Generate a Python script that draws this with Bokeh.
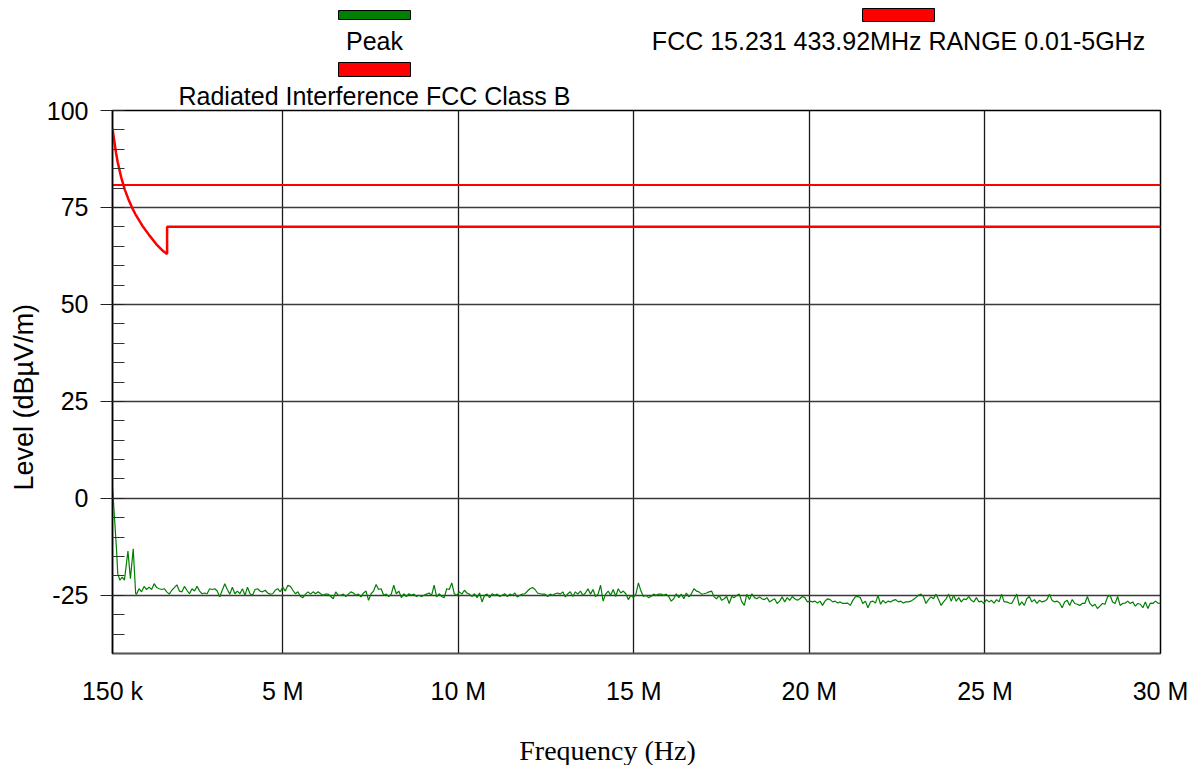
import numpy as np
from bokeh.plotting import figure
from bokeh.layouts import column
from bokeh.models import Range1d, FixedTicker, Title
from bokeh.core.properties import value
from bokeh.embed import file_html
from bokeh.resources import INLINE

# ---------------- data ----------------
x_ticks = [0.15, 5, 10, 15, 20, 25, 30]
x_tick_labels = ["150 k", "5 M", "10 M", "15 M", "20 M", "25 M", "30 M"]
y_ticks = [-25, 0, 25, 50, 75, 100]
y_tick_labels = ["-25", "0", "25", "50", "75", "100"]
y_minor = [-35, -30, -20, -15, -10, -5, 5, 10, 15, 20, 30, 35, 40, 45, 55, 60, 65, 70, 80, 85, 90, 95]

# Limit: Radiated Interference FCC Class B (MHz, dBuV/m)
limit_b_freq = [0.15, 0.2, 0.25, 0.3, 0.4, 0.5, 0.6, 0.7, 0.8, 1.0, 1.2, 1.4, 1.6, 1.705, 1.705, 30.0]
limit_b_level = [95.3, 92.2, 89.1, 86.6, 82.7, 79.6, 77.2, 75.1, 73.3, 70.3, 67.8, 65.5, 63.7, 63.0, 70.0, 70.0]

# Limit: FCC 15.231 433.92MHz
limit_fcc_freq = [0.15, 30.0]
limit_fcc_level = [80.8, 80.8]

# Peak trace: first low-frequency points
peak_start_freq = [0.15, 0.26, 0.30, 0.36, 0.43, 0.49, 0.59, 0.66, 0.74, 0.81]
peak_start_level = [3.0, -12.5, -19.4, -21.1, -20.3, -21.1, -13.6, -20.7, -13.0, -24.6]

# Peak trace: sweep from 0.834 MHz to 30 MHz (equally spaced sweep points)
peak_sweep_start = 0.834
peak_sweep_stop = 30.0
peak_sweep_level = [
    -24.7, -23.3, -24.1, -22.7, -23.5, -22.9, -23.5, -22.0, -23.0, -23.3,
    -23.5, -23.3, -24.1, -24.7, -23.7, -23.0, -22.3, -23.9, -24.1, -22.7,
    -23.7, -24.6, -23.3, -23.9, -22.7, -23.9, -24.6, -24.4, -24.6, -23.3,
    -23.5, -23.3, -23.9, -25.4, -23.7, -22.0, -23.5, -24.7, -22.9, -24.6,
    -23.9, -24.6, -23.3, -25.0, -22.9, -24.6, -25.0, -23.5, -23.3, -23.9,
    -24.1, -23.7, -24.4, -24.7, -24.6, -23.7, -23.3, -24.1, -22.9, -23.9,
    -22.4, -22.7, -23.7, -24.6, -24.1, -25.3, -25.6, -24.7, -24.1, -24.7,
    -24.1, -24.6, -24.1, -24.6, -25.0, -24.7, -24.7, -25.3, -25.9, -24.1,
    -25.0, -25.0, -24.7, -25.3, -24.7, -24.1, -24.4, -25.0, -24.7, -25.4,
    -24.4, -23.9, -26.3,
    -24.6, -23.9, -22.2, -23.5, -23.3, -25.0, -24.7, -25.3, -24.7, -22.4,
    -24.6, -23.9, -25.6, -24.6, -25.3, -24.6, -25.0, -24.7, -25.3, -25.0,
    -25.3, -25.0, -24.7, -24.4, -25.0, -22.4, -25.4, -24.6, -25.3, -25.6,
    -23.3, -23.5, -21.8, -24.6, -25.0, -24.1, -24.7, -23.7, -24.4, -24.7,
    -25.3, -24.6, -25.6, -24.4, -26.7, -25.0, -24.7, -25.6, -24.6, -25.0,
    -24.7, -25.3, -25.0, -24.6, -25.3, -24.7, -25.0, -24.4, -25.4, -25.0,
    -24.7, -24.6, -23.9, -23.3, -23.0, -23.5, -24.4, -24.6, -24.7, -24.7,
    -25.3, -24.7, -25.0, -24.6, -24.4, -24.7, -24.1, -25.4, -24.6, -24.1,
    -25.3, -24.1, -24.7, -23.9, -25.0, -24.4, -23.3, -24.7, -23.5, -25.3,
    -24.7, -22.4, -26.5, -24.7, -23.9, -25.0, -23.5, -25.3, -23.3, -24.4,
    -23.9, -24.6, -26.1, -25.0,
    -25.6, -24.7, -21.8, -23.9, -25.3, -25.0, -25.6, -25.3, -24.7, -25.0,
    -24.7, -24.7, -25.0, -24.7, -25.3, -26.5, -25.9, -24.6, -25.6, -24.7,
    -25.9, -24.4, -25.4, -24.6, -23.3, -23.9, -24.1, -24.7, -24.6, -24.4,
    -24.1, -23.9, -25.4, -25.9, -25.0, -26.3, -25.9, -25.3, -27.1, -25.3,
    -25.6, -25.0, -24.7, -26.7, -27.6, -24.7, -26.1, -24.6, -25.6, -25.9,
    -25.4, -25.9, -26.1, -25.6, -26.7, -26.3, -25.9, -27.1, -26.5, -25.4,
    -26.7, -25.6, -26.3, -25.3, -25.9, -26.3, -25.9, -25.3, -25.6, -26.7,
    -26.5, -26.7, -26.5, -27.0, -26.5, -27.6, -26.5, -25.9, -26.1, -26.7,
    -26.5, -27.0, -26.7, -27.1, -27.1, -27.0, -27.6, -26.3, -25.4, -25.3,
    -25.6, -27.1, -26.5, -28.2, -26.7, -26.5, -27.0, -25.0, -27.3, -26.3,
    -27.0, -26.5, -26.7, -26.3, -26.1,
    -26.7, -26.5, -27.0, -26.7, -26.7, -26.5, -26.1, -25.6, -25.0, -24.7,
    -25.3, -27.1, -26.1, -25.4, -25.9, -24.7, -26.1, -27.6, -26.7, -25.9,
    -24.7, -26.5, -25.0, -26.5, -25.6, -26.7, -25.9, -26.1, -25.3, -26.3,
    -26.7, -25.6, -26.7, -26.5, -27.1, -26.1, -26.7, -26.3, -27.0, -26.1,
    -26.7, -24.7, -26.7, -26.7, -27.0, -27.1, -25.9, -24.7, -27.6, -26.7,
    -27.6, -25.9, -25.3, -26.7, -26.1, -27.1, -26.3, -26.7, -26.5, -26.1,
    -24.7, -26.3, -26.7, -26.5, -27.0, -28.2, -26.7, -26.3, -27.6, -26.1,
    -27.1, -27.3, -27.6, -27.1, -27.1, -25.3, -27.1, -27.8, -27.3, -28.4,
    -27.8, -27.1, -27.3, -25.4, -25.0, -26.7, -27.1, -25.3, -27.6, -27.1,
    -27.0, -26.5, -27.1, -26.7, -27.8, -27.1, -27.3, -28.2, -26.7, -28.4,
    -27.0, -27.1, -26.5, -27.0, -27.1,
]

legend_peak = "Peak"
legend_limit_b = "Radiated Interference FCC Class B"
legend_limit_fcc = "FCC 15.231 433.92MHz RANGE 0.01-5GHz"
x_title = "Frequency (Hz)"
y_title = "Level (dBµV/m)"

SANS = "Liberation Sans"
SERIF = "Liberation Serif"
GREEN = "#008000"
RED = "#ff0000"

peak_freq = list(peak_start_freq) + list(np.linspace(peak_sweep_start, peak_sweep_stop, len(peak_sweep_level)))
peak_level = list(peak_start_level) + list(peak_sweep_level)

# ---------------- layout geometry (page pixels) ----------------
W = 1190
FRAME_L, FRAME_R = 112, 1160
LEG_H = 77           # legend strip: page y 0..77
MAIN_H = 638         # main chart: page y 77..715 (frame 110..653)
BOT_H = 50           # x title strip: page y 715..765


def strip(height, y_top):
    f = figure(width=W, height=height, x_range=Range1d(FRAME_L, FRAME_R),
               y_range=Range1d(y_top + height, y_top),
               output_backend="svg", toolbar_location=None,
               min_border_left=FRAME_L, min_border_right=W - FRAME_R,
               min_border_top=0, min_border_bottom=0,
               x_axis_location=None, y_axis_location=None, outline_line_color=None)
    f.xgrid.visible = False
    f.ygrid.visible = False
    return f


# legend strip
lg = strip(LEG_H, 0)
lg.quad(left=[338], right=[410], top=[10], bottom=[19], fill_color=GREEN, line_color="black", line_width=1)
lg.quad(left=[338], right=[410], top=[62], bottom=[76], fill_color=RED, line_color="black", line_width=1)
lg.quad(left=[862], right=[934], top=[8], bottom=[21], fill_color=RED, line_color="black", line_width=1)
for tx, ty, txt in [(374, 40.5, legend_peak), (898, 40.5, legend_limit_fcc)]:
    lg.text(x=[tx], y=[ty], text=[txt], text_align="center", text_baseline="middle",
            text_font=value(SANS), text_font_size="25px", text_color="black")

# main chart
p = figure(width=W, height=MAIN_H, x_range=Range1d(0.15, 30), y_range=Range1d(-40, 100),
           output_backend="svg", toolbar_location=None,
           min_border_left=FRAME_L, min_border_right=W - FRAME_R,
           min_border_top=110 - LEG_H, min_border_bottom=62)
p.outline_line_color = "black"
p.outline_line_width = 1.5
p.background_fill_color = "white"

# legend text of the Class B limit sits just above the frame
p.title.text = legend_limit_b
p.title.align = "left"
p.title.offset = 66
p.title.standoff = 1
p.title.text_font = SANS
p.title.text_font_size = "25px"
p.title.text_font_style = "normal"
p.title.text_color = "black"

p.xaxis.ticker = FixedTicker(ticks=x_ticks)
p.xaxis.major_label_overrides = {t: l for t, l in zip(x_ticks, x_tick_labels)}
p.xaxis.major_tick_out = 0
p.xaxis.major_tick_in = 0
p.xaxis.minor_tick_out = 0
p.xaxis.minor_tick_in = 0
p.xaxis.major_label_standoff = 23
p.xaxis.axis_line_color = "#555555"
p.xaxis.axis_line_width = 1.5

p.yaxis.ticker = FixedTicker(ticks=y_ticks, minor_ticks=y_minor)
p.yaxis.major_label_overrides = {t: l for t, l in zip(y_ticks, y_tick_labels)}
p.yaxis.major_tick_out = 12
p.yaxis.major_tick_in = 12
p.yaxis.minor_tick_out = 0
p.yaxis.minor_tick_in = 12
p.yaxis.major_tick_line_color = "#222222"
p.yaxis.minor_tick_line_color = "#333333"
p.yaxis.major_label_standoff = 12
p.yaxis.axis_line_color = "black"
p.yaxis.axis_line_width = 1.5

for ax in (p.xaxis, p.yaxis):
    ax.major_label_text_font = SANS
    ax.major_label_text_font_size = "25px"
    ax.major_label_text_color = "black"

# y title placed in the left panel, outside the axis
p.add_layout(Title(text=y_title, align="left", offset=163, standoff=10,
                   text_font=SANS, text_font_size="27px", text_font_style="normal",
                   text_color="black"), "left")

p.xgrid.grid_line_color = "#1a1a1a"
p.xgrid.grid_line_width = 1.3
p.ygrid.grid_line_color = "#3a3a3a"
p.ygrid.grid_line_width = 1.3

p.line(limit_fcc_freq, limit_fcc_level, line_color=RED, line_width=2)
p.line(limit_b_freq, limit_b_level, line_color=RED, line_width=2.5)
p.line(peak_freq, peak_level, line_color=GREEN, line_width=1.2)

# x title strip
bt = strip(BOT_H, LEG_H + MAIN_H)
bt.text(x=[607], y=[750], text=[x_title], text_align="center", text_baseline="middle",
        text_font=value(SERIF), text_font_size="28px", text_color="black")

layout = column(lg, p, bt, spacing=0)
open("out.html", "w").write(file_html(layout, INLINE))
